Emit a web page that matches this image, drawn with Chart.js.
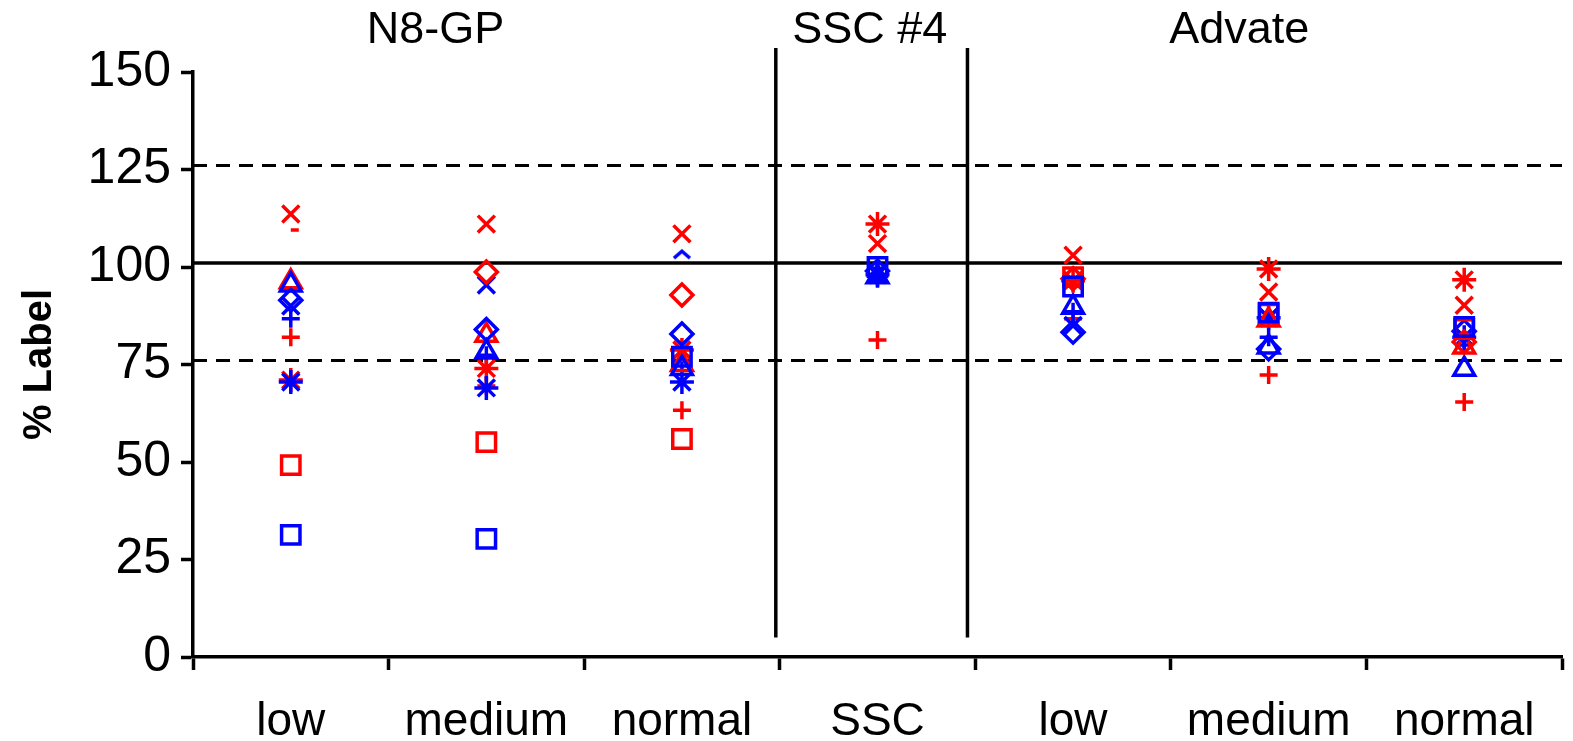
<!DOCTYPE html>
<html>
<head>
<meta charset="utf-8">
<script src="https://cdn.jsdelivr.net/npm/chart.js@4"></script>
<style>
  html, body { margin: 0; padding: 0; background: #fff; }
  #wrap { width: 1573px; height: 741px; }
</style>
</head>
<body>
<div id="wrap"><canvas id="chart"></canvas></div>
<script>
// categories and groups
const categories = ['low', 'medium', 'normal', 'SSC', 'low', 'medium', 'normal'];
const groupLabels = ['N8-GP', 'SSC #4', 'Advate'];
const groupPos = [0.74, 2.96, 4.85];
const dividers = [2.48, 3.46];
const yTicks = [0, 25, 50, 75, 100, 125, 150];

// reference lines
const solidLines = [101];
const dashedLines = [126, 76];

// series values, one per category
const blueSquare   = [31.3, 30.3, 77.0, 100.0, 95.0, 88.3, 84.6];
const redSquare    = [49.2, 55.1, 55.9, null, 97.4, 88.0, 84.1];
const blueDiamond  = [91.5, 84.0, 82.8, 99.0, 83.3, 79.0, 83.5];
const redDiamond   = [null, 98.7, 92.8, null, 97.0, null, 80.8];
const blueTriangle = [95.4, 78.2, 74.0, 97.5, 89.7, 79.5, 73.8];
const redTriangle  = [96.2, 82.5, 75.0, null, null, 86.4, 79.5];
const blueX        = [90.0, 95.4, null, 98.5, 85.0, 87.0, 82.0];
const redX         = [113.6, 111.0, 108.5, 106.0, 103.0, 93.6, 90.2];
const blueStar     = [70.5, 69.0, 70.5, 98.0, null, 87.0, 82.0];
const redStar      = [71.0, 74.0, 78.7, 111.0, 96.5, 99.5, 96.7];
const bluePlus     = [86.7, 77.4, 76.0, 97.0, 88.5, 82.0, 80.0];
const redPlus      = [82.0, 69.5, 63.3, 81.3, 86.7, 72.3, 65.4];
const redDash      = [109.5, null, null, null, null, null, null];
const blueCaret    = [null, null, 103.3, null, null, null, null];

const BLUE = '#0000FF';
const RED = '#FF0000';
const FONT = '"Liberation Sans", Arial, sans-serif';

// little "^" marker
function caret(color) {
  const c = document.createElement('canvas');
  c.width = 20; c.height = 12;
  const g = c.getContext('2d');
  g.strokeStyle = color;
  g.lineWidth = 3.5;
  g.beginPath();
  g.moveTo(2, 10); g.lineTo(10, 3); g.lineTo(18, 10);
  g.stroke();
  return c;
}

function series(data, color, style, radius) {
  return {
    data: data,
    showLine: false,
    pointStyle: style,
    pointRadius: radius,
    pointHoverRadius: radius,
    pointBorderColor: color,
    pointBackgroundColor: 'rgba(0,0,0,0)',
    pointBorderWidth: 3.5,
    borderColor: color
  };
}

const refLines = {
  id: 'refLines',
  beforeDatasetsDraw(chart) {
    const ctx = chart.ctx;
    const a = chart.chartArea;
    const y = chart.scales.y;
    const x = chart.scales.x;
    ctx.save();
    ctx.strokeStyle = '#000';
    ctx.lineWidth = 3.5;
    solidLines.forEach(v => {
      const p = y.getPixelForValue(v);
      ctx.beginPath(); ctx.moveTo(a.left, p); ctx.lineTo(a.right, p); ctx.stroke();
    });
    ctx.lineWidth = 3;
    ctx.setLineDash([14, 9]);
    dashedLines.forEach(v => {
      const p = y.getPixelForValue(v);
      ctx.beginPath(); ctx.moveTo(a.left, p); ctx.lineTo(a.right, p); ctx.stroke();
    });
    ctx.setLineDash([]);
    ctx.lineWidth = 3.5;
    dividers.forEach(v => {
      const p = x.getPixelForValue(v);
      ctx.beginPath(); ctx.moveTo(p, 48); ctx.lineTo(p, y.getPixelForValue(5)); ctx.stroke();
    });
    ctx.fillStyle = '#000';
    ctx.font = '45px ' + FONT;
    ctx.textAlign = 'center';
    ctx.textBaseline = 'middle';
    groupLabels.forEach((t, i) => {
      ctx.fillText(t, x.getPixelForValue(groupPos[i]), 31);
    });
    ctx.restore();
  }
};

new Chart(document.getElementById('chart'), {
  type: 'line',
  plugins: [refLines],
  data: {
    labels: categories,
    datasets: [
      series(blueSquare, BLUE, 'rect', 13),
      series(redSquare, RED, 'rect', 13),
      series(blueDiamond, BLUE, 'rectRot', 11),
      series(redDiamond, RED, 'rectRot', 11),
      series(blueTriangle, BLUE, 'triangle', 12),
      series(redTriangle, RED, 'triangle', 12),
      series(blueX, BLUE, 'crossRot', 12),
      series(redX, RED, 'crossRot', 12),
      series(blueStar, BLUE, 'star', 12),
      series(redStar, RED, 'star', 12),
      series(bluePlus, BLUE, 'cross', 9),
      series(redPlus, RED, 'cross', 9),
      series(redDash, RED, 'dash', 8),
      series(blueCaret, BLUE, caret(BLUE), 8)
    ]
  },
  options: {
    responsive: true,
    maintainAspectRatio: false,
    animation: false,
    layout: {
      autoPadding: false,
      padding: { top: 72, right: 11, left: 0, bottom: 0 }
    },
    plugins: {
      legend: { display: false },
      tooltip: { enabled: false }
    },
    scales: {
      x: {
        offset: true,
        afterFit: function (scale) { scale.height = 84; },
        border: { display: true, color: '#000', width: 3.5 },
        grid: {
          offset: true,
          drawOnChartArea: false,
          drawTicks: true,
          tickLength: 13,
          tickWidth: 3.5,
          tickColor: '#000'
        },
        ticks: {
          color: '#000',
          padding: 25,
          maxRotation: 0,
          font: { family: FONT, size: 46 }
        }
      },
      y: {
        min: 0,
        max: 150,
        afterFit: function (scale) { scale.width = 193; },
        afterBuildTicks: function (scale) {
          scale.ticks = yTicks.map(v => ({ value: v }));
        },
        border: { display: true, color: '#000', width: 3.5 },
        grid: {
          drawOnChartArea: false,
          drawTicks: true,
          tickLength: 12,
          tickWidth: 3.5,
          tickColor: '#000'
        },
        title: {
          display: true,
          text: '% Label',
          color: '#000',
          padding: { top: 16, bottom: 0 },
          font: { family: FONT, size: 40, weight: 'bold' }
        },
        ticks: {
          color: '#000',
          padding: 10,
          font: { family: FONT, size: 50 }
        }
      }
    }
  }
});
</script>
</body>
</html>
